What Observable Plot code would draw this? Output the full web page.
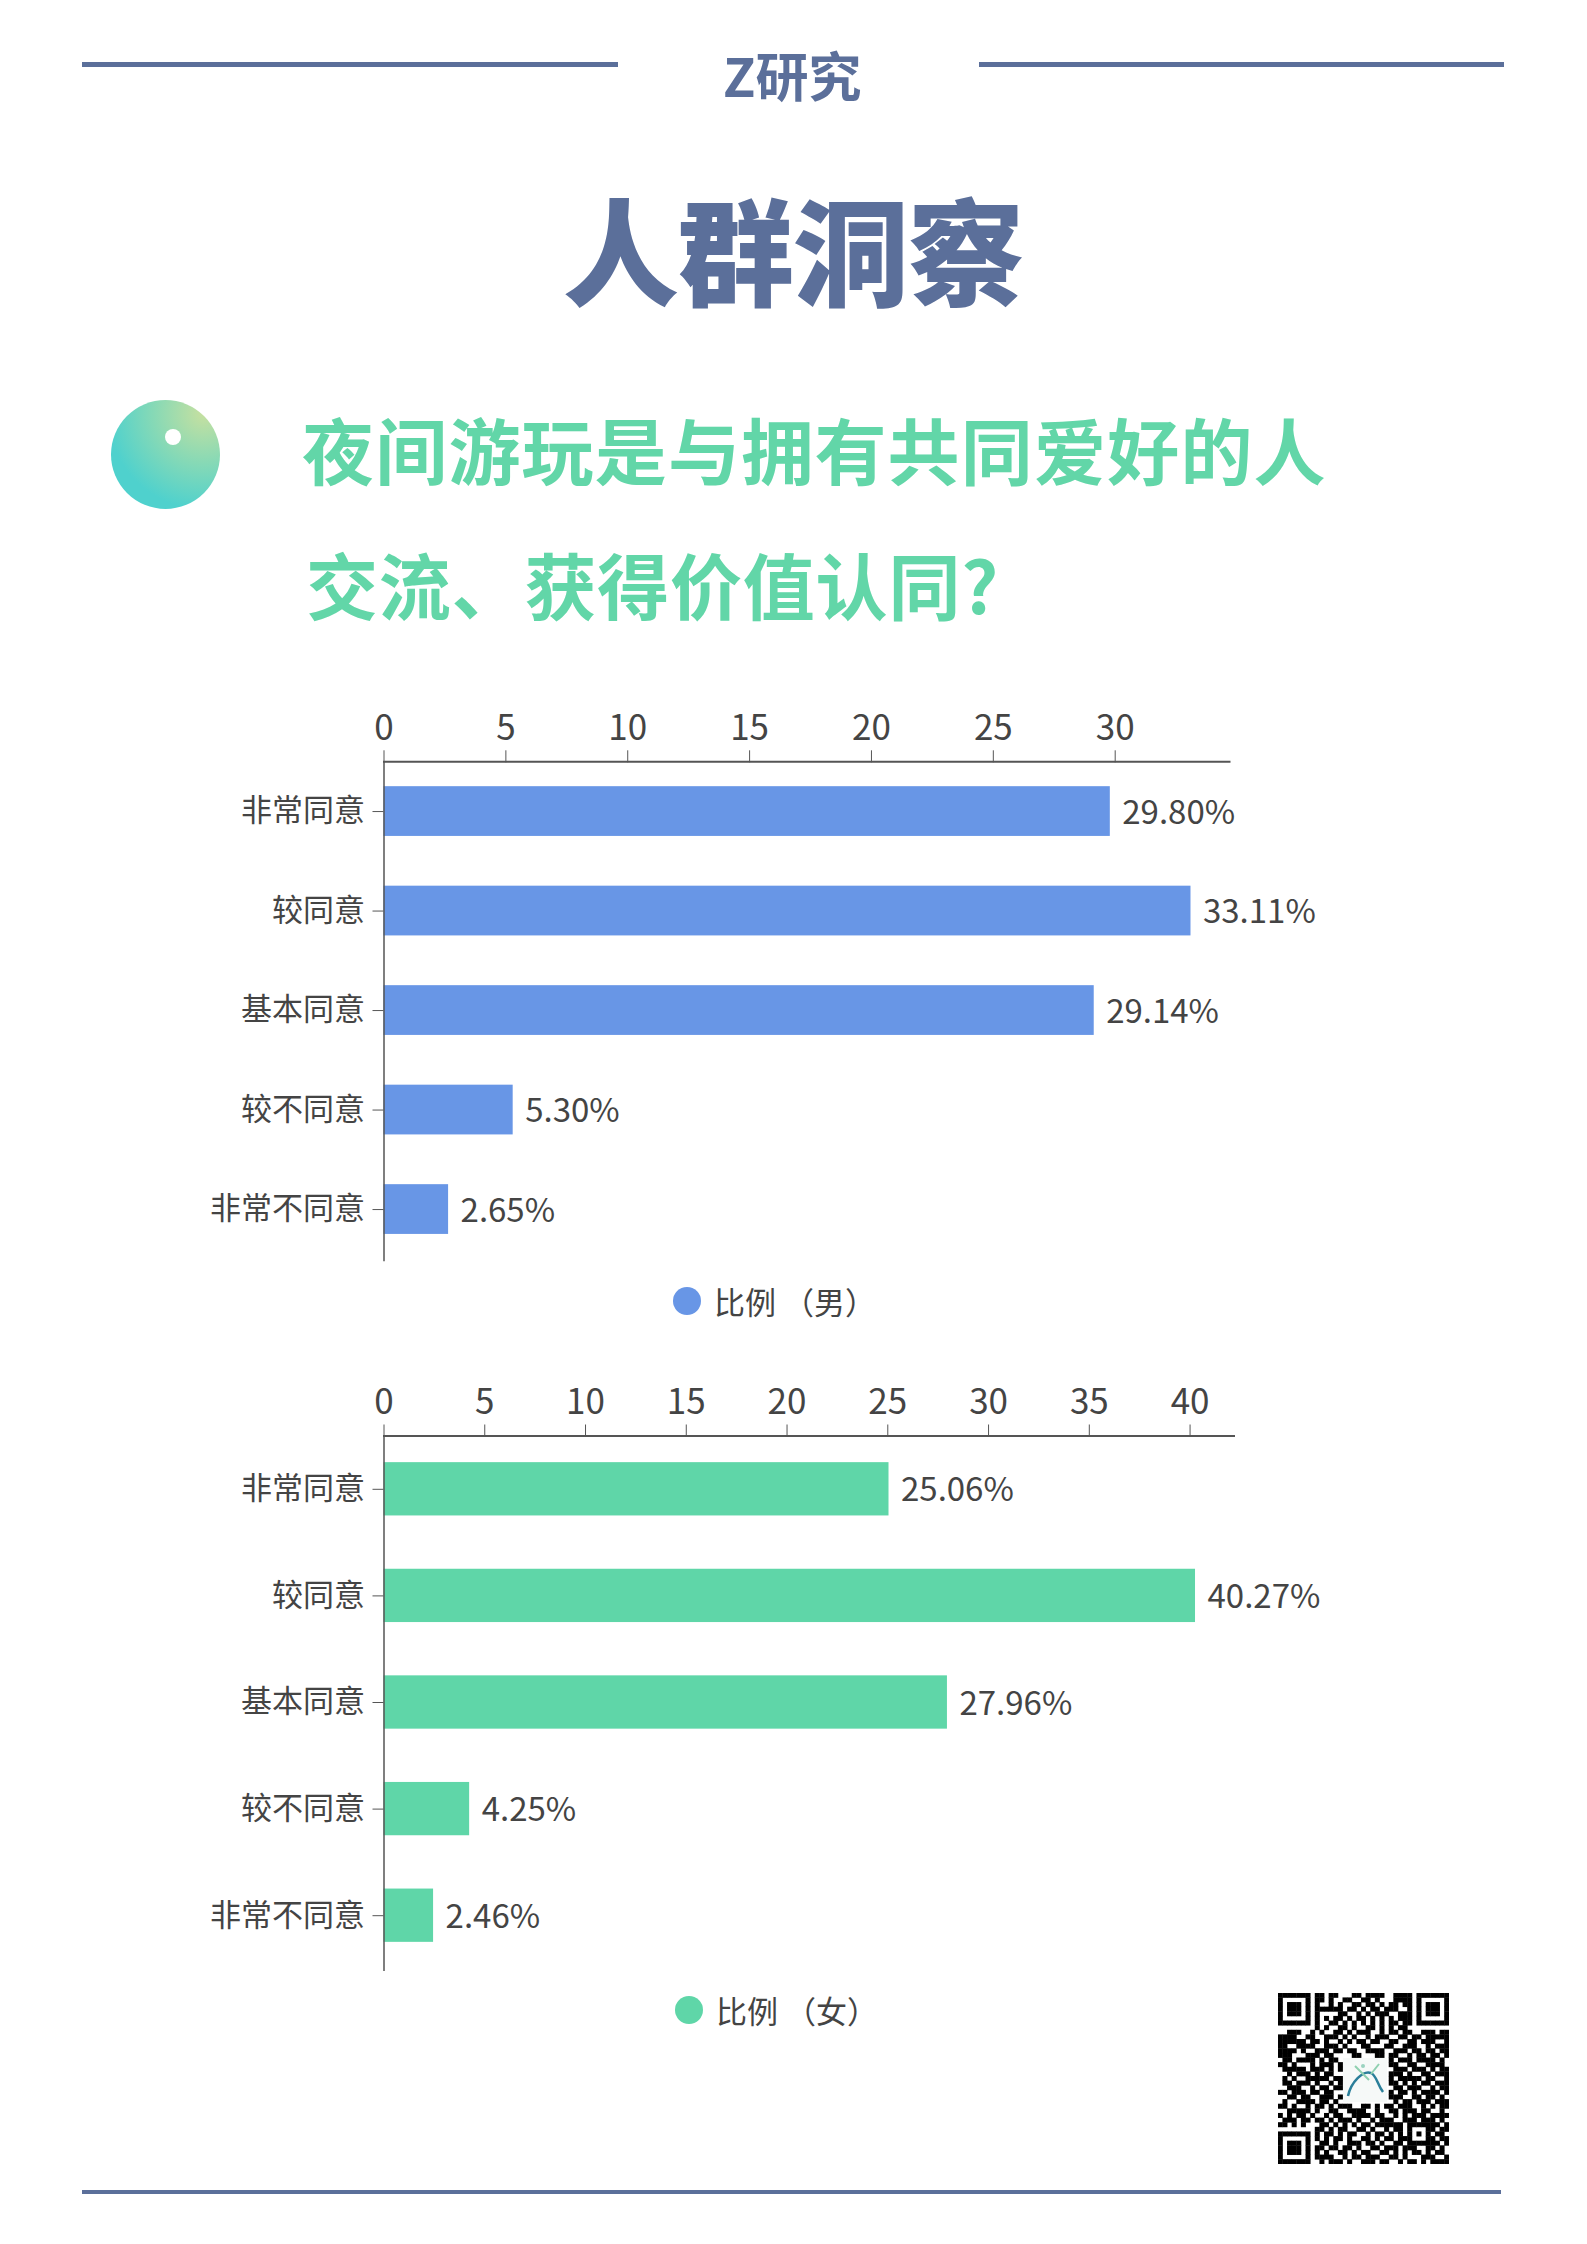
<!DOCTYPE html>
<html lang="zh-CN">
<head>
<meta charset="utf-8">
<script src="https://cdn.jsdelivr.net/npm/d3@7"></script>
<script src="https://cdn.jsdelivr.net/npm/@observablehq/plot@0.6"></script>
<style>
html,body{margin:0;padding:0;background:#fff;}
#page{position:relative;width:1587px;height:2244px;overflow:hidden;font-family:"Noto Sans CJK SC",sans-serif;}
.abs{position:absolute;white-space:nowrap;}
.rule{position:absolute;background:#5b6f9a;height:5px;}
.legend{position:absolute;display:flex;align-items:center;font-size:31px;color:#444;line-height:1;}
.legend i{display:block;width:28px;height:28px;border-radius:50%;margin-right:13px;}
.plot{position:absolute;left:0;}
</style>
</head>
<body>
<div id="page">
  <div class="rule" style="left:82px;top:62px;width:536px"></div>
  <div class="rule" style="left:979px;top:62px;width:525px"></div>
  <div class="abs" style="left:723px;top:39px;font-size:53px;line-height:70px;font-weight:700;color:#5b6f9a">Z研究</div>
  <div class="abs" style="left:563px;top:161px;font-size:116px;line-height:170px;font-weight:900;color:#5b6f9a;letter-spacing:-1px">人群洞察</div>
  <div class="abs" style="left:111px;top:400px;width:109px;height:109px;border-radius:50%;background:radial-gradient(circle at 85% 12%,#c6e0a0 0%,#86d9b6 38%,#4fd1cd 72%)"></div>
  <div class="abs" style="left:165px;top:429px;width:16px;height:16px;border-radius:50%;background:#fff"></div>
  <div class="abs" style="left:302px;top:392px;font-size:72px;line-height:112px;font-weight:700;color:#62d6a8;letter-spacing:1.2px">夜间游玩是与拥有共同爱好的人</div>
  <div class="abs" style="left:306px;top:527px;font-size:72px;line-height:112px;font-weight:700;color:#62d6a8;letter-spacing:.8px">交流、获得价值认同?</div>
  <div id="chartA" class="plot" style="top:700px"></div>
  <div class="legend" style="left:673px;top:1285px"><i style="background:#6896e6"></i><span>比例 （男）</span></div>
  <div id="chartB" class="plot" style="top:1380px"></div>
  <div class="legend" style="left:675px;top:1994px"><i style="background:#5fd6a8"></i><span>比例 （女）</span></div>
  <div id="qr" class="abs" style="left:1278px;top:1993px;filter:blur(.5px)"></div>
  <svg class="abs" style="left:1343px;top:2058px" width="44" height="44" viewBox="0 0 44 44">
    <rect width="44" height="44" fill="#f6f9f8"/>
    <path d="M5 38C8 24 20 12 28 15C34 18 34 26 40 34" fill="none" stroke="#2b7f9a" stroke-width="2.5"/>
    <path d="M12 8L26 22M36 6L28 16" fill="none" stroke="#8fd0b0" stroke-width="2"/>
    <circle cx="20" cy="8" r="2" fill="#9ad3c0"/>
  </svg>
  <div class="rule" style="left:82px;top:2190px;width:1419px;height:4px"></div>
</div>
<script>
const categories = ["非常同意","较同意","基本同意","较不同意","非常不同意"];
const valuesMale = [29.80,33.11,29.14,5.30,2.65];
const valuesFemale = [25.06,40.27,27.96,4.25,2.46];
const ticksMale = [0,5,10,15,20,25,30];
const ticksFemale = [0,5,10,15,20,25,30,35,40];
const qrRows = [
"00000000"+"110110001101111001111"+"00000000",
"00000000"+"110100110011010001111"+"00000000",
"00000000"+"100101001101101011011"+"00000000",
"00000000"+"111111011010110111001"+"00000000",
"00000000"+"100001100101011100111"+"00000000",
"00000000"+"101011010110101010111"+"00000000",
"00000000"+"100110101010101011011"+"00000000",
"00000000"+"101001101001101010110"+"00000000",
"00111001010011"+"0101110010"+"1101100111011",
"11110011001110"+"1010010111"+"0011011011111",
"11111101101001"+"0101101100"+"1100110111001",
"11001111001110"+"1000110001"+"1001110010111",
"11110100111011"+"0110011110"+"0111011011011",
"11100011101100"+"0011000110"+"1100101101101",
"01101111010110"+"0000000000"+"1011101111010",
"11010001011101"+"0000000000"+"1100110011110",
"01111101110101"+"0000000000"+"0111011101011",
"00101110101100"+"0000000000"+"1110100110111",
"01010011111011"+"0000000000"+"1011111011001",
"01101110100101"+"0000000000"+"1101010110111",
"00111001011011"+"0000000000"+"0110111001011",
"11011101101100"+"0000000000"+"1011010111101",
"00110110011101"+"0000000000"+"1110011011010",
"01001111011010"+"0000000000"+"0101101110111",
"11010010110101"+"1100110101"+"1011100101011",
"00111110100110"+"0111100100"+"1101110110010",
"10101101001011"+"0011110110"+"0101011101111",
"01110110110101"+"1101001011"+"1001110111010",
"11010100011010"+"1010110111"+"1110110011101",
"00000000"+"11010110011010010110110101011",
"00000000"+"10110101100101101010110110110",
"00000000"+"10101101001101011011001011011",
"00000000"+"01101001110110100110101101101",
"00000000"+"11011011010011011101110011010",
"00000000"+"10100110101100110101011010110",
"00000000"+"11110010110111001101000111001",
"00000000"+"01011101001110110010110101111"
];
const qrFinder = ["1111111","1000001","1011101","1011101","1011101","1000001","1111111"];
const qrAlign = ["11111","10001","10101","10001","11111"];

function barChart(opts){
  const data = categories.map((c,i)=>({c,v:opts.values[i]}));
  const fam = '"Noto Sans CJK SC",sans-serif';
  return Plot.plot({
    width:1587, height:opts.height,
    marginLeft:383.5, marginRight:opts.marginRight, marginTop:opts.marginTop, marginBottom:opts.marginBottom,
    style:{fontFamily:fam,background:"transparent",color:"#444",overflow:"visible"},
    x:{domain:[0,opts.max],axis:null},
    y:{domain:categories,round:false,axis:null,paddingInner:0.5,paddingOuter:0.25},
    marks:[
      Plot.barX(data,{x:"v",y:"c",fill:opts.color}),
      Plot.frame({anchor:"top",stroke:"#555",strokeWidth:2}),
      Plot.axisX({anchor:"top",ticks:opts.ticks,tickSize:12,tickPadding:10,fontSize:35,label:null,stroke:"#555",color:"#444"}),
      Plot.axisY({anchor:"left",tickSize:11,tickPadding:8,fontSize:31,label:null,stroke:"#555",color:"#444",textStroke:"none"}),
      Plot.ruleX([0],{stroke:"#555",strokeWidth:1.5,insetBottom:-2.5}),
      Plot.text(data,{x:"v",y:"c",text:d=>d.v.toFixed(2)+"%",dx:12,dy:1.5,textAnchor:"start",fontSize:33,fill:"#444"})
    ]
  });
}

document.getElementById("chartA").append(barChart({
  values:valuesMale,ticks:ticksMale,color:"#6896e6",max:34.69,
  height:568.8,marginTop:61.3,marginBottom:10,marginRight:358
}));
document.getElementById("chartB").append(barChart({
  values:valuesFemale,ticks:ticksFemale,color:"#5fd6a8",max:42.18,
  height:598.5,marginTop:55.5,marginBottom:10,marginRight:353.5
}));

const qrGrid = qrRows.map(r=>r.padEnd(37,"0").slice(0,37).split(""));
function stamp(pattern,r0,c0){pattern.forEach((row,r)=>row.split("").forEach((ch,c)=>{qrGrid[r0+r][c0+c]=ch;}));}
stamp(qrFinder,0,0);stamp(qrFinder,0,30);stamp(qrFinder,30,0);stamp(qrAlign,28,28);
const qrCells = qrGrid.flatMap((row,r)=>row.map((ch,c)=>({r,c,ch}))).filter(d=>d.ch==="1");
const qrIdx = d3.range(37);
document.getElementById("qr").append(Plot.plot({
  width:171,height:171,margin:0,
  x:{domain:qrIdx,axis:null,padding:0,round:false},
  y:{domain:qrIdx,axis:null,padding:0,round:false},
  marks:[Plot.cell(qrCells,{x:"c",y:"r",fill:"#000",inset:-0.2})]
}));
</script>
</body>
</html>
